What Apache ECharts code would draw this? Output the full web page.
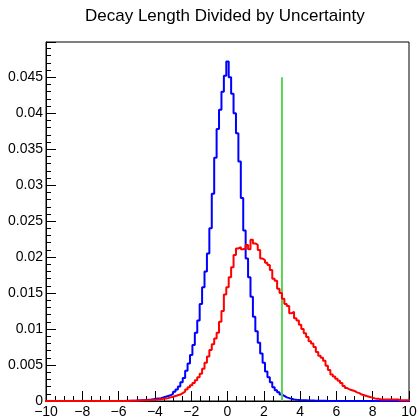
<!DOCTYPE html>
<html style="height: 100%">

<head>
  <meta charset="utf-8">
</head>

<body style="height: 100%; margin: 0; background: #fff">
  <div id="container" style="width: 418px; height: 418px"></div>

  <script type="text/javascript" src="https://fastly.jsdelivr.net/npm/echarts@6.0.0/dist/echarts.min.js"></script>

  <script type="text/javascript">
    // histogram binning: 151 bins of 20/150, first bin centred on -10
    var binWidth = 20 / 150;
    var binLow = -10 - binWidth / 2;

    // blue: bins n = -75 .. 75 (bin centre n * binWidth)
    var blueValues = [
      0, 0, 0, 0, 0, 0, 0, 0, 0, 0, 0, 0, 0, 0, 0, 0,
      0, 0, 0, 0, 0, 0, 0, 0, 0, 0, 0, 0, 0, 0, 0, 0,
      0.00001, 0.00002, 0.00003, 0.00004, 0.00005, 0.00006, 0.00008, 0.0001, 0.00012, 0.00015,
      0.00018, 0.0002, 0.00025, 0.0003, 0.00035, 0.0004, 0.0005, 0.0006, 0.0007, 0.0008,
      0.0010, 0.0013, 0.0016, 0.0020, 0.0026, 0.0032, 0.0042, 0.0052, 0.0064, 0.0078,
      0.0095, 0.0112, 0.0135, 0.0158, 0.0180, 0.0205, 0.0240, 0.0288, 0.0338, 0.0378,
      0.0405, 0.0430, 0.0452,
      0.0472,
      0.0450, 0.0427, 0.0400, 0.0372, 0.0333, 0.0282, 0.0237, 0.0198, 0.0172, 0.0145,
      0.0117, 0.0097, 0.0081, 0.0066, 0.0053, 0.0041, 0.0033, 0.0026, 0.0019, 0.0015,
      0.0012, 0.0009, 0.0007, 0.0005, 0.0004, 0.0003, 0.00022, 0.00018, 0.00015, 0.00012,
      0.0001, 0.0001, 0.00008, 0.00007, 0.00006, 0.00005, 0.00004, 0.00003, 0.00002, 0.00002,
      0, 0, 0, 0, 0, 0, 0, 0, 0, 0, 0, 0, 0, 0, 0, 0, 0, 0,
      0, 0, 0, 0, 0, 0, 0, 0, 0, 0, 0, 0, 0, 0, 0, 0, 0
    ];

    // red: same binning
    var redValues = [
      0, 0, 0, 0, 0, 0, 0, 0, 0, 0, 0, 0, 0, 0, 0, 0, 0, 0,
      0, 0, 0, 0, 0, 0, 0, 0, 0, 0, 0, 0, 0, 0, 0, 0, 0,
      0.00003, 0.00005, 0.00005, 0.00008, 0.00008, 0.0001, 0.0001, 0.00012, 0.00013, 0.00015,
      0.00018, 0.0002, 0.00025, 0.0003, 0.00035, 0.0004, 0.0005, 0.0006, 0.0007, 0.0008,
      0.0009, 0.0011, 0.0013, 0.0016, 0.0019, 0.0022, 0.0025, 0.0029, 0.0033, 0.0038,
      0.0045, 0.0053, 0.0062, 0.0071, 0.0079, 0.0087, 0.0095, 0.0110, 0.0125, 0.0148,
      0.0158, 0.0172, 0.0186, 0.0203, 0.0212, 0.0214, 0.0211, 0.0212, 0.0217, 0.0211,
      0.0224, 0.0219, 0.0217, 0.0210, 0.0198, 0.0196, 0.0192, 0.0189, 0.0182, 0.0170,
      0.0167, 0.0156, 0.0150, 0.0142, 0.0135, 0.0132, 0.0122, 0.0124, 0.0115, 0.0112,
      0.0106, 0.0100, 0.0094, 0.0089, 0.0083, 0.0080, 0.0075, 0.0068, 0.0063, 0.0060,
      0.0056, 0.0049, 0.0043, 0.0037, 0.0034, 0.0031, 0.0028, 0.0025, 0.0021, 0.0018,
      0.0016, 0.0015, 0.0014, 0.0012, 0.0011, 0.0009, 0.0008, 0.0007, 0.0006, 0.0005,
      0.0004, 0.0003, 0.0003, 0.0002, 0.0002, 0.0002, 0.0002, 0.0002, 0.0002, 0.0002,
      0.0002, 0.0001, 0.0001, 0.0001, 0.0001, 0.0001
    ];

    // vertical cut line
    var cutLine = [[3, 0], [3, 0.045]];

    var xTicks = [-10, 10, 2];
    var yTicks = [0, 0.0499, 0.005];

    function stepData(values) {
      var pts = [];
      for (var i = 0; i < values.length; i++) {
        pts.push([binLow + i * binWidth, values[i]]);
      }
      pts.push([binLow + values.length * binWidth, values[values.length - 1]]);
      return pts;
    }

    var dom = document.getElementById('container');
    var myChart = echarts.init(dom, null, { renderer: 'canvas' });

    var font = 'Liberation Sans, Arial, Helvetica, sans-serif';

    var option = {
      animation: false,
      backgroundColor: '#fff',
      title: {
        text: 'Decay Length Divided by Uncertainty',
        left: 85,
        top: 8,
        padding: 0,
        textStyle: { fontFamily: font, fontSize: 17, fontWeight: 'normal', color: '#000' }
      },
      grid: {
        left: 46,
        right: 9,
        top: 42,
        bottom: 17,
        show: true,
        borderColor: '#000',
        borderWidth: 1,
        backgroundColor: 'transparent',
        containLabel: false,
        outerBoundsMode: 'none'
      },
      xAxis: {
        type: 'value',
        min: xTicks[0],
        max: xTicks[1],
        interval: xTicks[2],
        axisLine: { show: true, onZero: false, lineStyle: { color: '#000', width: 1 } },
        axisTick: { show: true, inside: true, length: 10, lineStyle: { color: '#000' } },
        minorTick: { show: true, splitNumber: 4, length: 5, lineStyle: { color: '#000' } },
        splitLine: { show: false },
        axisLabel: {
          margin: 4,
          fontFamily: font,
          fontSize: 14,
          color: '#000',
          showMinLabel: true,
          showMaxLabel: true,
          formatter: function (v) { return String(v).replace('-', '\u2212'); }
        }
      },
      yAxis: {
        type: 'value',
        min: yTicks[0],
        max: yTicks[1],
        interval: yTicks[2],
        axisLine: { show: true, onZero: false, lineStyle: { color: '#000', width: 1 } },
        axisTick: { show: true, inside: true, length: 10, lineStyle: { color: '#000' } },
        minorTick: { show: true, splitNumber: 5, length: 5, lineStyle: { color: '#000' } },
        splitLine: { show: false },
        axisLabel: {
          margin: 3,
          fontFamily: font,
          fontSize: 14,
          color: '#000',
          formatter: function (v) {
            var k = v / yTicks[2];
            if (Math.abs(k - Math.round(k)) > 1e-6) return '';
            return String(parseFloat(v.toFixed(3)));
          }
        }
      },
      series: [
        {
          type: 'line',
          data: stepData(blueValues),
          step: 'end',
          showSymbol: false,
          symbol: 'none',
          lineStyle: { color: '#0000ff', width: 2 },
          clip: true,
          z: 2
        },
        {
          type: 'line',
          data: cutLine,
          showSymbol: false,
          symbol: 'none',
          lineStyle: { color: '#59d454', width: 2 },
          z: 3
        },
        {
          type: 'line',
          data: stepData(redValues),
          step: 'end',
          showSymbol: false,
          symbol: 'none',
          lineStyle: { color: '#ff0000', width: 2 },
          clip: true,
          z: 4
        }
      ]
    };

    myChart.setOption(option);
    window.addEventListener('resize', myChart.resize);
  </script>
</body>

</html>
